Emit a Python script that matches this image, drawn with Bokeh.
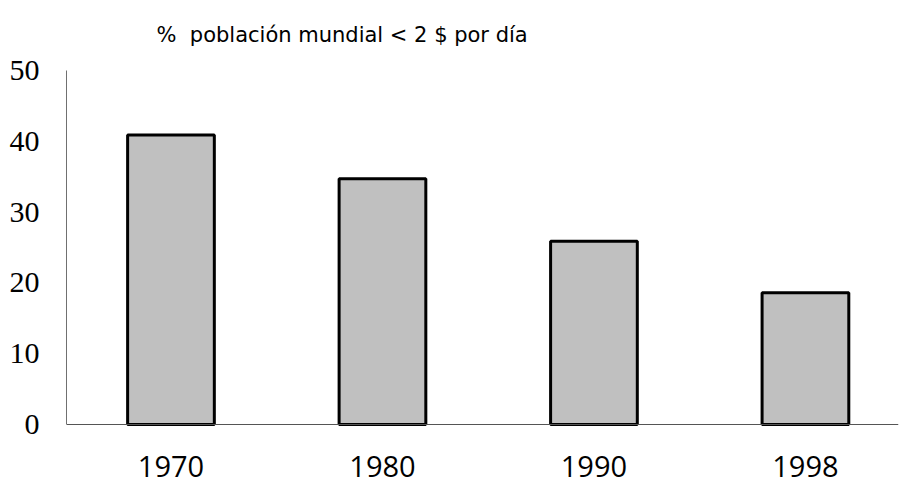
from bokeh.plotting import figure
from bokeh.models import FixedTicker, Range1d, Label
from bokeh.embed import file_html
from bokeh.resources import INLINE

# Data
years = ["1970", "1980", "1990", "1998"]
values = [40.9, 34.7, 25.9, 18.6]
y_ticks = [0, 10, 20, 30, 40, 50]
title_text = "%\u00a0\u00a0población mundial < 2 $ por día"

xs = list(range(len(years)))

# Layout (pixels)
W, H = 899, 484
frame_left = 66
zero_px = 424          # page y of value 0
top_px = 70            # page y of value 50
ppu = (zero_px - top_px) / 50.0

p = figure(width=W, height=H, output_backend="svg", toolbar_location=None,
           x_range=Range1d(-0.494, 3.44),
           y_range=Range1d(-(H - zero_px) / ppu, 50 + top_px / ppu),
           min_border_left=frame_left, min_border_right=1, min_border_top=0,
           min_border_bottom=0)

p.vbar(x=xs, top=values, width=0.41, bottom=0,
       fill_color="#C0C0C0", line_color="black", line_width=3)

p.grid.visible = False
p.outline_line_color = None
p.background_fill_color = "white"
p.border_fill_color = "white"

# Title as a label
title = Label(x=90, y=H - 34, x_units="screen", y_units="screen", text=title_text,
              text_font="DejaVu Sans", text_font_size="21px", text_color="black",
              text_align="left", text_baseline="alphabetic")
p.add_layout(title)

# Y axis
ya = p.yaxis[0]
ya.ticker = FixedTicker(ticks=y_ticks)
ya.bounds = (0, 50)
ya.major_tick_line_color = None
ya.minor_tick_line_color = None
ya.major_tick_out = 0
ya.major_tick_in = 0
ya.axis_line_color = "#707070"
ya.axis_line_width = 1
ya.major_label_text_font = "Liberation Serif"
ya.major_label_text_font_size = "30px"
ya.major_label_text_color = "black"
ya.major_label_standoff = 27

# X axis, fixed at y = 0
xa = p.xaxis[0]
xa.fixed_location = 0
xa.ticker = FixedTicker(ticks=xs)
xa.major_label_overrides = {i: y for i, y in zip(xs, years)}
xa.major_tick_line_color = None
xa.minor_tick_line_color = None
xa.major_tick_out = 0
xa.major_tick_in = 0
xa.axis_line_color = "#555555"
xa.axis_line_width = 1
xa.major_label_text_font = "Open Sans"
xa.major_label_text_font_size = "29px"
xa.major_label_text_color = "black"
xa.major_label_standoff = 31

open("out.html", "w").write(file_html(p, INLINE))
